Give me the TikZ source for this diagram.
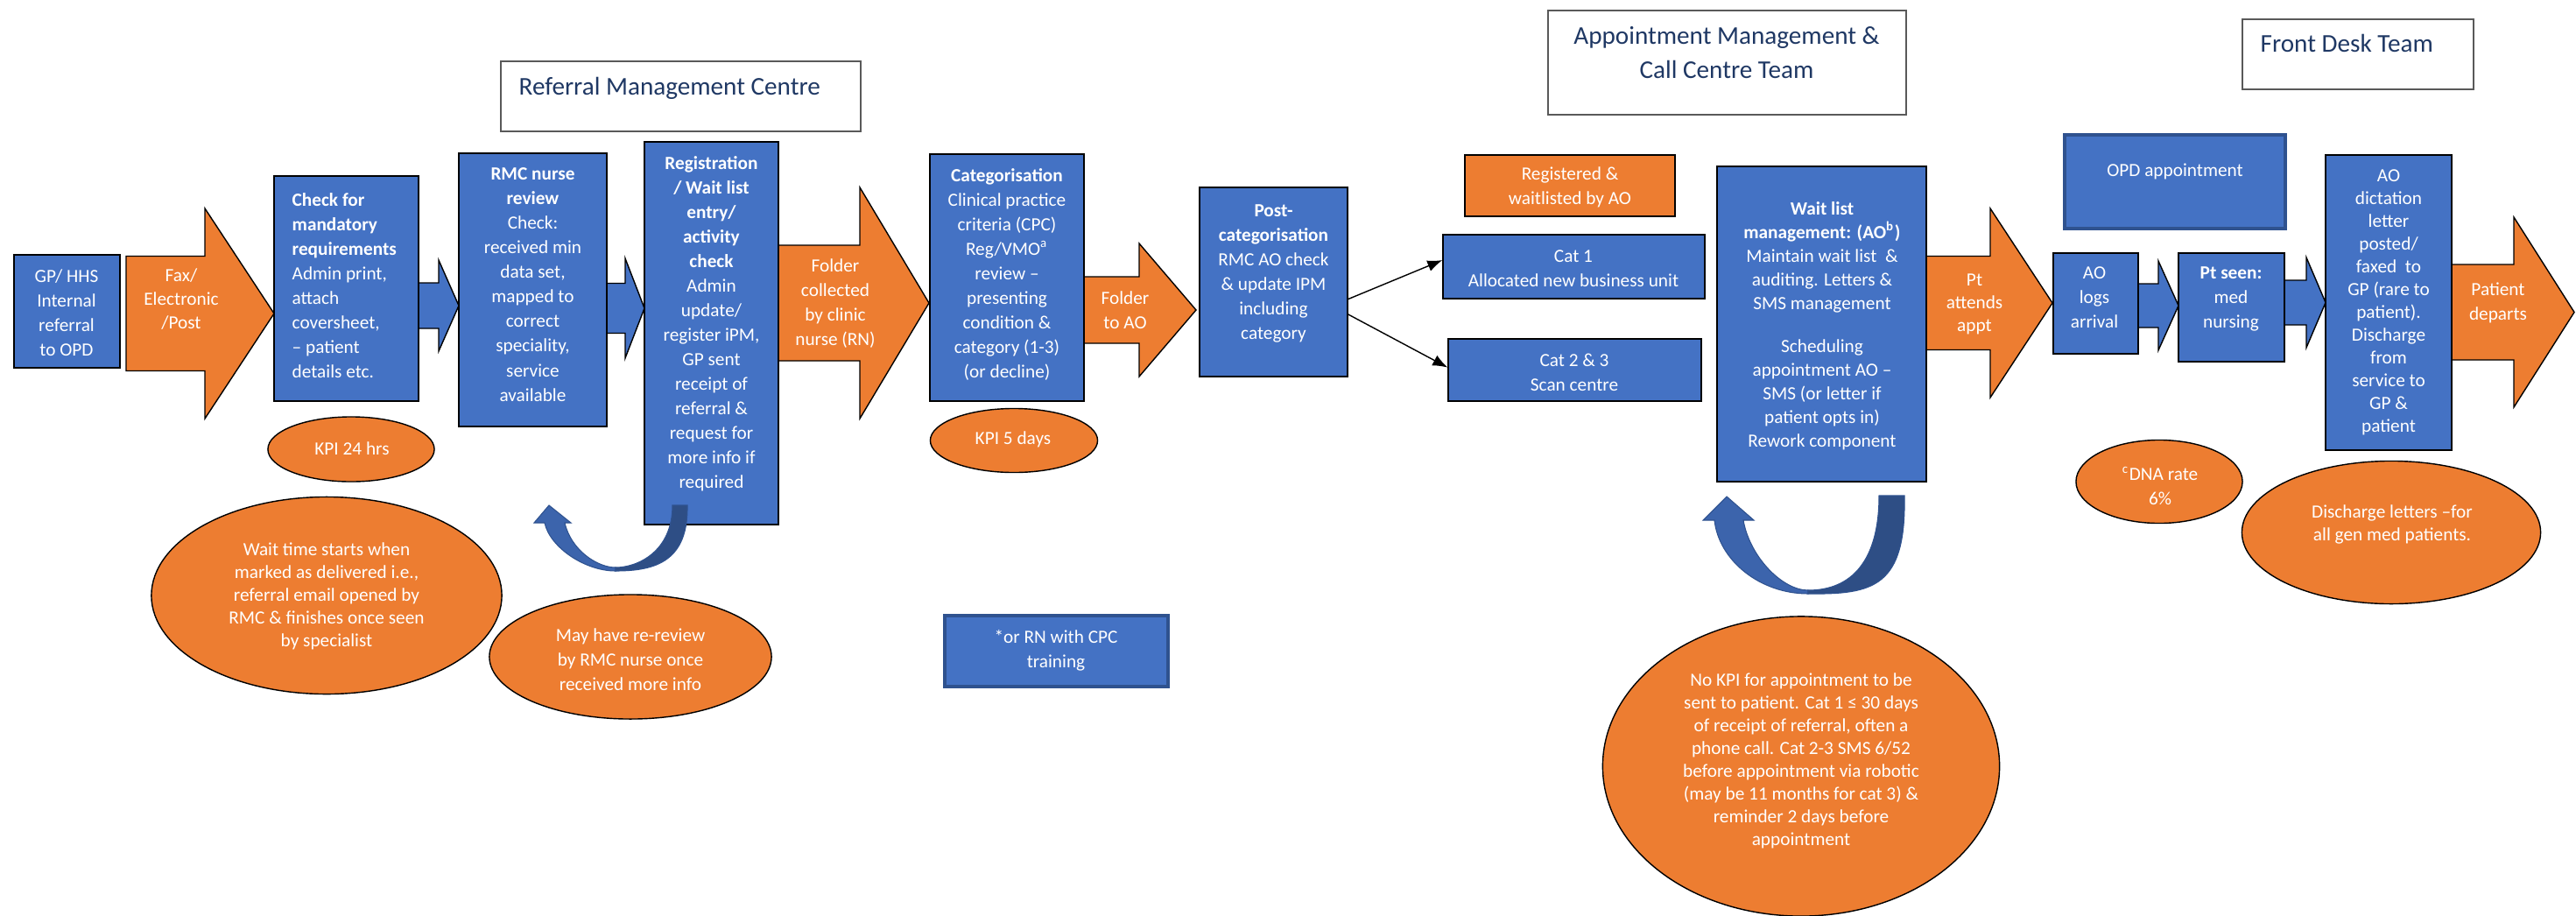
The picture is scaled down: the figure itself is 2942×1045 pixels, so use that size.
\documentclass[tikz,border=0pt]{standalone}
\usepackage{fontspec}
\setmainfont{Carlito}
\usetikzlibrary{shapes.geometric,fit,calc,arrows.meta}
\definecolor{bl}{RGB}{68,114,196}
\definecolor{orng}{RGB}{237,125,49}
\definecolor{dkb}{RGB}{47,82,143}
\definecolor{navy}{RGB}{31,56,100}
\newcommand\fsA{\fontsize{6.05pt}{7.97pt}\selectfont}
\newcommand\fsB{\fontsize{6.05pt}{7.4pt}\selectfont}
\newcommand\fsC{\fontsize{6.05pt}{7.68pt}\selectfont}
\newcommand\fsT{\fontsize{8.3pt}{11.1pt}\selectfont}
% block arrow: name, body left, head start, tip, y centre, body half, head half, style
\newcommand\barrow[8]{%
  \draw[#8] (#2,#5-#6) -- (#3,#5-#6) -- (#3,#5-#7) -- (#4,#5) -- (#3,#5+#7) -- (#3,#5+#6) -- (#2,#5+#6) -- cycle;
  \coordinate (#1) at (#4,#5);}
\begin{document}
\begin{tikzpicture}[x=0.01cm,y=-0.01cm,
  bx/.style={draw=black, line width=0.4pt, fill=bl, inner sep=0pt},
  obx/.style={bx, fill=orng},
  nbx/.style={draw=dkb, line width=0.9pt, fill=bl, inner sep=0pt},
  tbx/.style={draw=black!65, line width=0.5pt, fill=white, inner sep=0pt},
  ell/.style={ellipse, draw=black, line width=0.4pt, fill=orng, inner sep=0pt},
  tx/.style={text=white, align=center, inner sep=0pt, font=\fsA},
  txB/.style={tx, font=\fsB},
  txC/.style={tx, font=\fsC},
  tt/.style={text=navy, inner sep=0pt, font=\fsT},
  oarr/.style={draw=black, line width=0.4pt, fill=orng},
  barr/.style={draw=black, line width=0.4pt, fill=bl},
  conn/.style={draw=black, line width=0.4pt, -{Latex[length=0.17cm,width=0.13cm]}},
  ulight/.style={fill=bl!88!black, draw=dkb, line width=0.3pt},
  udark/.style={fill=bl!68!black, draw=dkb, line width=0.3pt}]
\useasboundingbox[fill=white] (0,0) rectangle (2942,1045);

% ---------- title boxes ----------
\node[tbx, fit={(572,70) (983,150)}] (rmcT) {};
\node[tt, anchor=base west] (rmcTt) at (592,108) {Referral Management Centre};
\node[tbx, fit={(1768,12) (2177,131)}] (amT) {};
\node[tt, align=center] (amTt) at (1972,60) {Appointment Management \&\\Call Centre Team};
\node[tbx, fit={(2561,22) (2825,102)}] (fdT) {};
\node[tt, anchor=base west] (fdTt) at (2581,59) {Front Desk Team};

% ---------- block arrows ----------
\barrow{fax}{144}{234}{313}{358}{65.5}{120}{oarr}
\barrow{a1}{478}{501}{524}{349}{26}{52}{barr}
\barrow{a2}{693}{714}{736}{352}{28.5}{57}{barr}
\barrow{fold}{889}{982}{1061}{346}{66}{132}{oarr}
\barrow{fao}{1238}{1301}{1366}{354}{38}{76}{oarr}
\barrow{pta}{2200}{2273}{2344}{346}{53.5}{108}{oarr}
\barrow{a3}{2442}{2465}{2488}{349}{25}{51}{barr}
\barrow{a4}{2609}{2634}{2656}{345.5}{25.5}{51.5}{barr}
\barrow{pd}{2800}{2871}{2940}{356.5}{54.5}{108.5}{oarr}

\node[txC] (faxt) at (207,342) {Fax/\\Electronic\\/Post};
\node[tx] (foldt) at (954,347) {Folder\\collected\\by clinic\\nurse (RN)};
\node[tx] (faot) at (1285,354) {Folder\\to AO};
\node[txB] (ptat) at (2255,347) {Pt\\attends\\appt};
\node[tx] (pdt) at (2853,346) {Patient\\departs};

% ---------- process boxes ----------
\node[bx, fit={(16,291) (137,420)}] (gp) {};
\node[tx] (gpt) at (76,357) {GP/ HHS\\Internal\\referral\\to OPD};

\node[bx, fit={(313,201) (478,458)}] (chk) {};
\node[tx, align=left, anchor=west] (chkt) at (333,326) {\textbf{Check for}\\\textbf{mandatory}\\\textbf{requirements}\\Admin print,\\attach\\coversheet,\\– patient\\details etc.};

\node[bx, fit={(524,175) (693,487)}] (rmc) {};
\node[tx] (rmct) at (608.5,325) {\textbf{RMC nurse}\\\textbf{review}\\Check:\\received min\\data set,\\mapped to\\correct\\speciality,\\service\\available};

\node[bx, fit={(736,162) (889,599)}] (reg) {};
\node[tx] (regt) at (812.5,370) {\textbf{Registration}\\\textbf{/ Wait list}\\\textbf{entry/}\\\textbf{activity}\\\textbf{check}\\Admin\\update/\\register iPM,\\GP sent\\receipt of\\referral \&\\request for\\more info if\\required};

\node[bx, fit={(1062,176) (1238,458)}] (cat) {};
\node[tx] (catt) at (1150,313.5) {\textbf{Categorisation}\\Clinical practice\\criteria (CPC)\\Reg/VMO\textsuperscript{a}\\review –\\presenting\\condition \&\\category (1-3)\\(or decline)};

\node[bx, fit={(1370,214) (1539,430)}] (post) {};
\node[tx] (postt) at (1454.5,312) {\textbf{Post-}\\\textbf{categorisation}\\RMC AO check\\\& update IPM\\including\\category};

\node[obx, fit={(1673,177) (1913,247)}] (regd) {};
\node[tx] (regdt) at (1793,214) {Registered \&\\waitlisted by AO};

\node[bx, fit={(1648,268) (1947,341)}] (cat1) {};
\node[tx] (cat1t) at (1797,307) {Cat 1\\Allocated new business unit};

\node[bx, fit={(1654,387) (1943,458)}] (cat23) {};
\node[tx] (cat23t) at (1798,425) {Cat 2 \& 3\\Scan centre};

\node[bx, fit={(1961,190) (2200,550)}] (wl) {};
\node[txC] (wlt) at (2081,372) {\textbf{Wait list}\\\textbf{management: (AO\textsuperscript{b})}\\Maintain wait list\ \ \&\\auditing. Letters \&\\SMS management\\[6.3pt]Scheduling\\appointment AO –\\SMS (or letter if\\patient opts in)\\Rework component};

\node[nbx, fit={(2358,154) (2610,261)}] (opd) {};
\node[tx] (opdt) at (2484,196) {OPD appointment};

\node[bx, fit={(2345,289) (2442,404)}] (aol) {};
\node[tx] (aolt) at (2392,340) {AO\\logs\\arrival};

\node[bx, fit={(2488,289) (2609,413)}] (pts) {};
\node[tx] (ptst) at (2548,341) {\textbf{Pt seen:}\\med\\nursing};

\node[bx, fit={(2656,177) (2800,514)}] (aod) {};
\node[txB] (aodt) at (2728,345.5) {AO\\dictation\\letter\\posted/\\faxed\ \ to\\GP (rare to\\patient).\\Discharge\\from\\service to\\GP \&\\patient};

\node[nbx, fit={(1079,703) (1334,784)}] (note) {};
\node[tx] (notet) at (1206,743) {*or RN with CPC\\training};

% ---------- connectors post-categorisation ----------
\coordinate (ps1) at ($(post.north east)!0.59!(post.south east)$);
\coordinate (ps2) at ($(post.north east)!0.67!(post.south east)$);
\coordinate (c1in) at ($(cat1.north west)!0.40!(cat1.south west)$);
\coordinate (c23in) at ($(cat23.north west)!0.46!(cat23.south west)$);
\draw[conn] (ps1) -- (c1in);
\draw[conn] (ps2) -- (c23in);

% ---------- ellipses ----------
\node[ell, minimum width=1.9cm, minimum height=0.74cm] (kpi24) at (401,513) {};
\node[tx] (kpi24t) at (402,512) {KPI 24 hrs};
\node[ell, minimum width=1.91cm, minimum height=0.73cm] (kpi5) at (1158,503) {};
\node[tx] (kpi5t) at (1157,502) {KPI 5 days};
\node[ell, minimum width=4.0cm, minimum height=2.25cm] (wait) at (373,680) {};
\node[txB] (waitt) at (373,681) {Wait time starts when\\marked as delivered i.e.,\\referral email opened by\\RMC \& finishes once seen\\by specialist};
\node[ell, minimum width=3.22cm, minimum height=1.42cm] (may) at (720,750) {};
\node[tx] (mayt) at (720,753) {May have re-review\\by RMC nurse once\\received more info};
\node[ell, minimum width=4.53cm, minimum height=3.42cm] (nokpi) at (2057,875) {};
\node[txB] (nokpit) at (2057,869) {No KPI for appointment to be\\sent to patient. Cat 1 ≤ 30 days\\of receipt of referral, often a\\phone call. Cat 2-3 SMS 6/52\\before appointment via robotic\\(may be 11 months for cat 3) \&\\reminder 2 days before\\appointment};
\node[ell, minimum width=1.9cm, minimum height=0.95cm] (dna) at (2466,550) {};
\node[tx] (dnat) at (2467,555) {\textsuperscript{c}DNA rate\\6\%};
\node[ell, minimum width=3.41cm, minimum height=1.63cm] (dis) at (2731,608) {};
\node[txB] (dist) at (2732,599) {Discharge letters –for\\all gen med patients.};

% ---------- U-turn arrows ----------
\path[ulight] (703,652) .. controls (668,652) and (628,625) .. (622,597) -- (610,597) -- (627,577) -- (652,597) -- (645,597) .. controls (652,628) and (682,648) .. (703,648) -- cycle;
\path[udark] (785,577) .. controls (786,640) and (750,652) .. (703,652) -- (703,648) .. controls (728,648) and (768,630) .. (768,577) -- cycle;

\path[ulight] (2065,678) .. controls (2010,678) and (1963,640) .. (1958,594) -- (1945,594) -- (1972,567) -- (2003,594) -- (1991,594) .. controls (1998,635) and (2035,674) .. (2065,674) -- cycle;
\path[udark] (2175,566) .. controls (2177,670) and (2140,679) .. (2065,678) -- (2065,674) .. controls (2115,674) and (2146,640) .. (2146,566) -- cycle;
\end{tikzpicture}
\end{document}
